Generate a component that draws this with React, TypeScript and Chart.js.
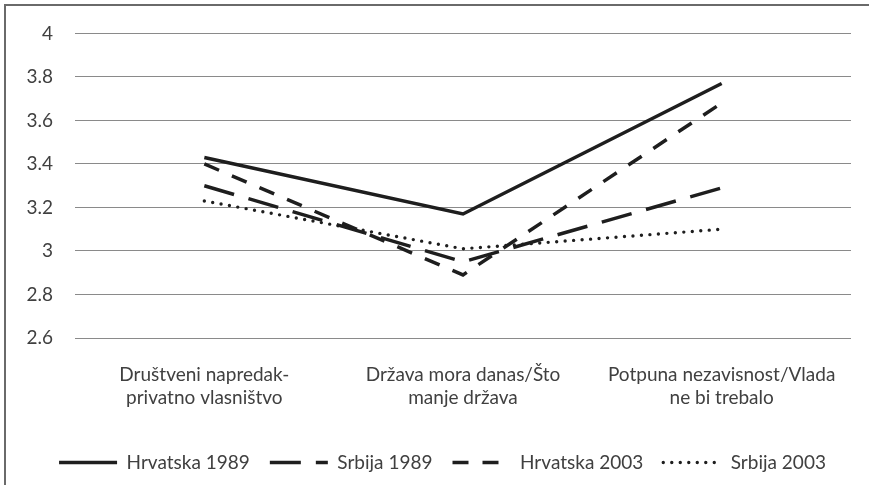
import React, { useEffect, useRef } from "react";
import { Chart, registerables } from "chart.js";

Chart.register(...registerables);

const categories: string[][] = [
  ["Društveni napredak-", "privatno vlasništvo"],
  ["Država mora danas/Što", "manje država"],
  ["Potpuna nezavisnost/Vlada", "ne bi trebalo"],
];

const seriesNames = ["Hrvatska 1989", "Srbija 1989", "Hrvatska 2003", "Srbija 2003"];
const hrvatska1989 = [3.43, 3.17, 3.77];
const srbija1989 = [3.3, 2.95, 3.29];
const hrvatska2003 = [3.4, 2.89, 3.68];
const srbija2003 = [3.23, 3.01, 3.1];

const yMin = 2.6;
const yMax = 4;
const yStep = 0.2;

const FONT = "Lato";
const TEXT = "#404040";

const legendShift = {
  id: "legendShift",
  afterLayout(chart: any) {
    const l = chart.legend;
    if (l) {
      l.left += 17;
      l.right += 17;
    }
  },
};

export default function App() {
  const ref = useRef<HTMLCanvasElement | null>(null);

  useEffect(() => {
    if (!ref.current) return;
    const lineColor = "#1e1e1e";
    const chart = new Chart(ref.current, {
      type: "line",
      data: {
        labels: categories,
        datasets: [
          {
            label: seriesNames[0],
            data: hrvatska1989,
            borderColor: lineColor,
            backgroundColor: lineColor,
            borderWidth: 3.5,
            pointRadius: 0,
            tension: 0,
          },
          {
            label: seriesNames[1],
            data: srbija1989,
            borderColor: lineColor,
            backgroundColor: lineColor,
            borderWidth: 3.5,
            borderDash: [31, 15],
            pointRadius: 0,
            tension: 0,
          },
          {
            label: seriesNames[2],
            data: hrvatska2003,
            borderColor: lineColor,
            backgroundColor: lineColor,
            borderWidth: 3.5,
            borderDash: [16, 14],
            pointRadius: 0,
            tension: 0,
          },
          {
            label: seriesNames[3],
            data: srbija2003,
            borderColor: lineColor,
            backgroundColor: lineColor,
            borderWidth: 3.4,
            borderDash: [0, 8.5],
            borderCapStyle: "round",
            pointRadius: 0,
            tension: 0,
          },
        ],
      },
      plugins: [legendShift],
      options: {
        responsive: false,
        animation: false,
        layout: { padding: { left: 0, right: 18, top: 29, bottom: 3 } },
        plugins: {
          tooltip: { enabled: false },
          legend: {
            position: "bottom",
            align: "center",
            labels: {
              usePointStyle: true,
              pointStyle: "line",
              pointStyleWidth: 58,
              padding: 20,
              color: TEXT,
              font: { family: FONT, size: 19 },
              generateLabels: (c: any) => {
                const items = Chart.defaults.plugins.legend.labels.generateLabels(c);
                return items.map((it: any) => {
                  const ds: any = c.data.datasets[it.datasetIndex];
                  return {
                    ...it,
                    pointStyle: "line",
                    lineDash: ds.borderDash || [],
                    lineCap: ds.borderCapStyle || "butt",
                    lineWidth: ds.borderWidth,
                    strokeStyle: ds.borderColor,
                    fillStyle: ds.borderColor,
                  };
                });
              },
            },
          },
        },
        scales: {
          x: {
            offset: true,
            grid: { display: false },
            border: { display: false },
            ticks: {
              color: TEXT,
              padding: 17,
              maxRotation: 0,
              autoSkip: false,
              font: { family: FONT, size: 19, lineHeight: 1.24 },
            },
            afterFit: (s: any) => {
              s.height = 95;
            },
          },
          y: {
            min: yMin,
            max: yMax,
            grid: { color: "#8a8a8a", lineWidth: 1, drawTicks: false },
            border: { display: false },
            ticks: {
              stepSize: yStep,
              padding: 22,
              color: TEXT,
              font: { family: FONT, size: 19 },
              callback: (v: any) => String(Number(Number(v).toFixed(1))),
            },
            afterFit: (s: any) => {
              s.width = 75;
            },
          },
        },
      },
    });
    return () => chart.destroy();
  }, []);

  return (
    <div
      style={{
        position: "fixed",
        left: 0,
        top: 0,
        width: 869,
        height: 485,
        overflow: "hidden",
        background: "#ffffff",
      }}
    >
      <div
        style={{
          position: "absolute",
          left: 4,
          top: 4,
          width: 950,
          height: 600,
          borderLeft: "2px solid #6a6a6a",
          borderTop: "2px solid #6a6a6a",
        }}
      />
      <canvas ref={ref} width={869} height={485} style={{ position: "absolute", left: 0, top: 0 }} />
    </div>
  );
}
